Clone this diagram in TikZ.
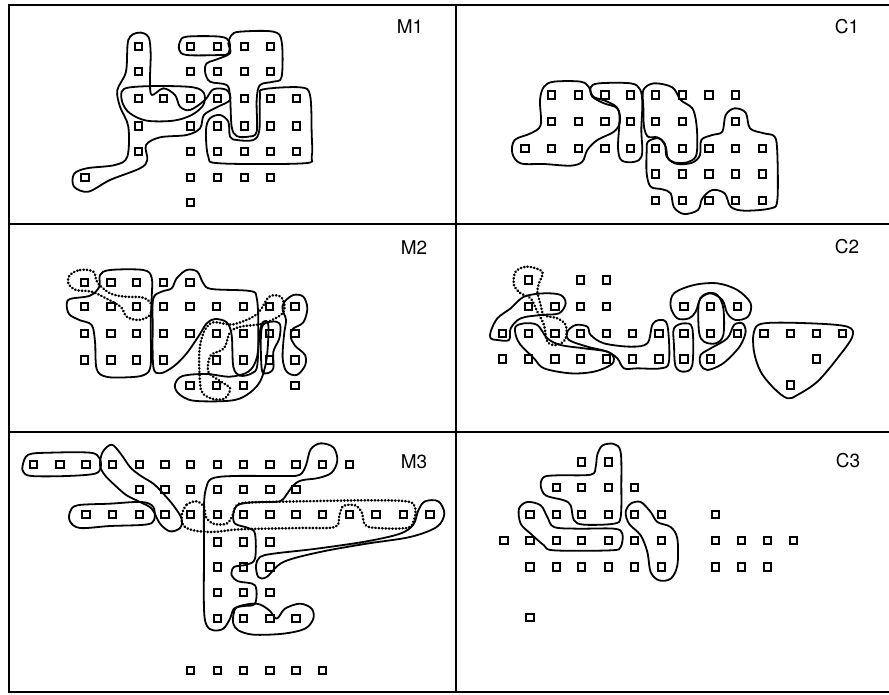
\documentclass[tikz,border=0pt]{standalone}
\usepackage{fontspec}
\setmainfont{TeX Gyre Heros}
\newcommand\sqrows[1]{\foreach \yy/\xl in {#1}{\foreach \xx in \xl {\node[sq] at (\xx,\yy) {};}}}
\begin{document}
\begin{tikzpicture}[x=1pt,y=-1pt,
 sq/.style={draw,line width=1.8pt,minimum size=7.4pt,inner sep=0pt},
 outl/.style={line width=1.8pt,line join=round},
 dots/.style={line width=2.6pt,dash pattern=on 0.4pt off 3pt,line cap=round},
 frame/.style={line width=2.3pt},
 lab/.style={font=\fontsize{19}{22}\selectfont,inner sep=0pt}]
\useasboundingbox (0,0) rectangle (889,694);
% frame
\draw[frame] (889,5) -- (9,5) -- (9,692) -- (889,692);
\draw[frame] (456,5) -- (456,692);
\draw[frame] (9,224) -- (889,224);
\draw[frame] (9,432) -- (889,432);
% labels
\node[lab] (m1) at (410,27) {M1};
\node[lab] (c1) at (847,27) {C1};
\node[lab] (m2) at (414,248) {M2};
\node[lab] (c2) at (847,247) {C2};
\node[lab] (m3) at (414,462) {M3};
\node[lab] (c3) at (848,461) {C3};
% ---------- M1
\begin{scope}[shift={(0,0)},scale=0.33333]
\sqrows{140/{415,572,652,733,812},215/{415,572,652,733,812},295/{415,490,572,652,733,812,890},378/{415,572,652,733,812,890},455/{415,572,652,733,812,890},532/{255,572,652,733,812},608/{572}}
\draw[outl] plot[smooth cycle,tension=0.55] coordinates {(415,98)(445,110)(452,160)(450,240)(455,285)(490,265)(525,285)(540,320)(570,330)(615,300)(640,268)(680,270)(690,300)(650,322)(612,345)(600,385)(560,405)(480,412)(438,435)(442,480)(420,505)(330,540)(265,575)(222,560)(222,522)(260,505)(345,495)(382,470)(385,380)(360,320)(352,270)(378,215)(385,120)};
\draw[outl] plot[smooth cycle,tension=0.55] coordinates {(365,275)(390,262)(480,258)(580,262)(612,280)(610,315)(575,345)(520,362)(440,362)(390,340)(368,310)};
\draw[outl] plot[smooth cycle,tension=0.55] coordinates {(540,125)(560,110)(660,110)(688,125)(685,160)(660,165)(560,165)(538,150)};
\draw[outl] plot[smooth cycle,tension=0.55] coordinates {(695,105)(720,95)(820,95)(845,125)(845,230)(820,245)(780,255)(770,300)(770,395)(745,410)(710,408)(695,380)(690,290)(680,255)(630,245)(615,215)(620,190)(645,180)(690,160)(685,130)};
\draw[outl] plot[smooth cycle,tension=0.55] coordinates {(780,290)(790,268)(900,262)(930,285)(935,400)(935,470)(910,490)(660,490)(625,470)(618,390)(630,355)(660,345)(685,365)(690,410)(710,420)(760,420)(778,390)};
\end{scope}
% ---------- C1
\begin{scope}[shift={(444,0)},scale=0.33333]
\sqrows{285/{322,403,483,560,635,715,795,875},365/{322,403,483,560,635,715,875},445/{243,322,403,483,560,635,715,795,875,955},522/{635,715,795,875,955},602/{635,715,795,875,955}}
\draw[outl] plot[smooth cycle,tension=0.55] coordinates {(300,260)(330,245)(410,245)(435,262)(445,290)(480,310)(520,325)(528,365)(510,395)(460,420)(430,450)(415,485)(380,497)(300,492)(230,490)(205,460)(212,420)(260,400)(290,375)(288,300)};
\draw[outl] plot[smooth cycle,tension=0.55] coordinates {(440,262)(465,250)(560,250)(588,268)(595,310)(592,390)(595,455)(585,480)(555,487)(530,478)(522,440)(525,335)(490,305)(448,290)};
\draw[outl] plot[smooth cycle,tension=0.55] coordinates {(598,270)(630,250)(685,262)(710,300)(745,325)(757,370)(760,430)(755,470)(730,487)(690,487)(668,470)(662,430)(640,412)(612,410)(600,380)(598,320)};
\draw[outl] plot[smooth cycle,tension=0.55] coordinates {(612,425)(645,415)(665,440)(672,475)(700,492)(745,488)(768,465)(772,420)(805,405)(835,395)(845,345)(872,325)(905,338)(918,385)(960,400)(992,410)(1000,460)(1000,600)(980,625)(900,632)(860,620)(842,580)(805,570)(775,595)(762,630)(720,642)(690,622)(680,580)(655,568)(620,560)(608,520)(608,455)};
\end{scope}
% ---------- M2
\begin{scope}[shift={(0,225)},scale=0.33333]
\sqrows{172/{253,333,410,490,570},245/{253,333,410,490,570,650,730,808,885},325/{253,333,410,490,570,650,730,808,885},405/{253,333,410,490,650,730,808,885},482/{570,650,730,885}}
\draw[dots] plot[smooth cycle,tension=0.55] coordinates {(210,150)(240,135)(280,140)(292,172)(330,205)(375,215)(430,218)(455,240)(448,272)(415,285)(380,275)(362,245)(318,220)(275,200)(228,195)(205,175)};
\draw[outl] plot[smooth cycle,tension=0.55] coordinates {(210,222)(270,212)(298,185)(300,150)(330,135)(430,135)(455,158)(455,220)(452,300)(452,420)(432,450)(380,457)(318,455)(290,432)(285,350)(275,300)(238,285)(208,268)(200,240)};
\draw[outl] plot[smooth cycle,tension=0.55] coordinates {(460,220)(485,200)(515,190)(530,160)(560,135)(592,140)(610,175)(635,192)(750,198)(770,218)(775,300)(772,420)(755,445)(720,452)(700,425)(695,330)(680,292)(645,282)(620,295)(598,330)(560,385)(520,425)(480,445)(460,425)(458,300)};
\draw[dots] plot[smooth cycle,tension=0.55] coordinates {(600,470)(598,380)(612,320)(640,292)(700,298)(770,268)(808,215)(845,218)(850,262)(792,295)(722,305)(690,322)(672,370)(632,392)(625,440)(660,468)(690,490)(675,520)(640,522)(608,505)};
\draw[outl] plot[smooth cycle,tension=0.55] coordinates {(525,478)(548,453)(620,447)(690,455)(745,440)(770,400)(780,320)(790,290)(805,300)(800,400)(780,470)(740,510)(690,527)(580,527)(535,505)};
\draw[outl] plot[smooth cycle,tension=0.55] coordinates {(785,310)(815,290)(840,298)(838,340)(820,380)(820,430)(800,445)(785,430)};
\draw[outl] plot[smooth cycle,tension=0.55] coordinates {(852,232)(880,210)(910,215)(922,250)(910,292)(878,312)(872,335)(885,362)(915,390)(915,422)(890,450)(860,440)(848,400)(852,330)(858,285)(848,255)};
\end{scope}
% ---------- C2
\begin{scope}[shift={(444,225)},scale=0.33333]
\sqrows{165/{253,410,488},245/{253,333,410,488,720,800,880},325/{175,253,333,410,488,565,645,720,800,880,960,1040,1118,1195},402/{175,253,333,410,488,565,645,720,800,1118},480/{1040}}
\draw[dots] plot[smooth cycle,tension=0.55] coordinates {(215,140)(250,125)(295,140)(285,175)(280,200)(290,240)(300,270)(340,280)(365,300)(365,340)(340,360)(310,350)(300,300)(280,260)(260,220)(230,205)(210,180)};
\draw[outl] plot[smooth cycle,tension=0.55] coordinates {(140,320)(160,280)(200,250)(240,215)(300,205)(350,210)(365,235)(345,265)(290,270)(230,280)(200,310)(195,345)(160,345)(140,340)};
\draw[outl] plot[smooth cycle,tension=0.55] coordinates {(215,305)(240,295)(280,300)(310,340)(350,360)(420,370)(490,380)(510,400)(500,420)(450,440)(380,445)(300,430)(270,400)(230,360)(215,330)};
\draw[outl] plot[smooth cycle,tension=0.55] coordinates {(370,320)(395,300)(430,305)(440,330)(480,355)(560,365)(610,355)(625,300)(645,285)(670,300)(675,410)(650,430)(580,430)(540,430)(520,400)(490,380)(430,365)(375,345)};
\draw[outl] plot[smooth cycle,tension=0.55] coordinates {(690,310)(720,295)(745,310)(745,420)(720,440)(695,425)(690,360)};
\draw[outl] plot[smooth cycle,tension=0.55] coordinates {(680,245)(690,205)(750,180)(820,175)(880,195)(920,235)(912,275)(875,285)(850,265)(835,225)(800,205)(770,220)(755,260)(735,280)(700,280)};
\draw[outl] plot[smooth cycle,tension=0.55] coordinates {(765,230)(790,205)(820,210)(838,250)(838,330)(815,355)(780,350)(765,320)};
\draw[outl] plot[smooth cycle,tension=0.55] coordinates {(770,390)(800,370)(850,340)(870,300)(895,295)(905,320)(890,360)(860,395)(830,420)(790,435)(770,420)};
\draw[outl] plot[smooth cycle,tension=0.55] coordinates {(930,320)(960,295)(1100,295)(1210,305)(1225,335)(1180,400)(1120,470)(1060,510)(1030,520)(990,490)(950,440)(930,380)};
\end{scope}
% ---------- M3
\begin{scope}[shift={(0,452)},scale=0.33333]
\sqrows{37/{100,180,258,337,418,495,572,652,730,810,888,968,1048},112/{418,495,572,652,730,810,888},187/{258,337,418,495,572,652,730,810,888,968,1048,1128,1210,1290},270/{652,730,810},345/{652,730,810},422/{652,730,810},500/{652,730,810,888},655/{572,652,730,810,888,968}}
\draw[outl] plot[smooth cycle,tension=0.55] coordinates {(68,40)(85,8)(150,2)(270,2)(298,18)(302,45)(285,65)(200,72)(95,72)(70,60)};
\draw[outl] plot[smooth cycle,tension=0.55] coordinates {(300,40)(308,0)(335,-22)(362,5)(390,45)(420,70)(460,95)(490,125)(520,160)(545,200)(540,228)(510,238)(480,215)(455,170)(420,150)(380,130)(345,100)(315,70)};
\draw[outl] plot[smooth cycle,tension=0.55] coordinates {(210,180)(232,160)(330,155)(425,150)(460,165)(462,205)(435,218)(330,222)(240,228)(210,208)};
\draw[outl] plot[smooth cycle,tension=0.55] coordinates {(618,110)(635,80)(700,72)(860,72)(900,68)(918,40)(932,-8)(962,-26)(1000,-14)(1012,25)(995,62)(955,78)(905,85)(880,100)(858,130)(840,148)(790,150)(745,152)(712,160)(700,185)(705,215)(745,228)(765,245)(765,320)(740,338)(702,345)(695,370)(715,388)(765,400)(765,455)(730,462)(702,470)(690,500)(670,530)(640,535)(620,520)(612,470)(612,300)(612,160)};
\draw[dots] plot[smooth cycle,tension=0.55] coordinates {(545,190)(560,158)(590,148)(612,165)(618,195)(640,215)(680,215)(698,190)(708,162)(740,152)(900,148)(1100,145)(1220,148)(1245,165)(1242,205)(1220,228)(1130,228)(1095,218)(1085,180)(1065,160)(1030,162)(1018,190)(1005,225)(900,228)(720,232)(640,240)(580,235)(550,220)};
\draw[outl] plot[smooth cycle,tension=0.55] coordinates {(1255,175)(1275,148)(1315,148)(1333,185)(1310,225)(1230,255)(1100,275)(960,300)(850,330)(800,375)(775,375)(768,340)(780,315)(820,305)(950,290)(1100,268)(1200,245)(1240,218)};
\draw[outl] plot[smooth cycle,tension=0.55] coordinates {(700,490)(712,465)(770,455)(808,475)(830,500)(855,470)(900,455)(935,470)(940,500)(915,530)(850,545)(760,548)(715,535)(700,515)};
\end{scope}
% ---------- C3
\begin{scope}[shift={(444,452)},scale=0.33333]
\sqrows{30/{413,493},107/{337,413,493,572},187/{258,337,413,493,572,652,815},265/{180,258,337,413,493,572,652,815,893,970,1048},345/{258,337,413,493,572,652,815,893,970},497/{258}}
\draw[outl] plot[smooth cycle,tension=0.55] coordinates {(460,8)(476,-20)(510,-24)(530,0)(532,100)(530,195)(510,215)(420,218)(390,205)(380,160)(360,145)(305,130)(290,100)(300,75)(340,70)(440,68)(455,45)};
\draw[outl] plot[smooth cycle,tension=0.55] coordinates {(225,170)(250,150)(290,160)(310,195)(330,225)(400,230)(510,230)(535,245)(530,285)(500,295)(330,295)(300,280)(260,245)(230,215)};
\draw[outl] plot[smooth cycle,tension=0.55] coordinates {(545,180)(560,155)(590,150)(620,180)(640,210)(680,225)(700,260)(700,340)(680,380)(645,385)(620,360)(610,300)(590,250)(555,215)};
\end{scope}
\end{tikzpicture}
\end{document}
